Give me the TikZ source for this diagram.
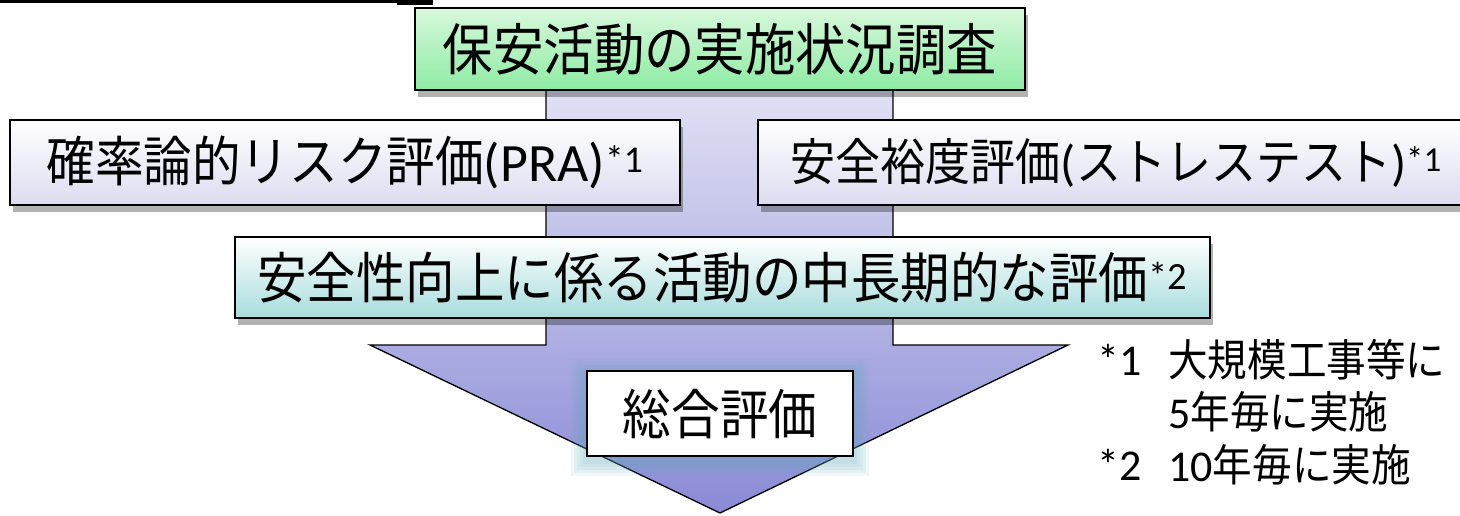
\documentclass[tikz,border=0pt]{standalone}
\usepackage{fontspec}
\setmainfont{Noto Sans CJK JP}[FakeStretch=0.9]
\newfontfamily\lat{Carlito}
\usetikzlibrary{shadows}
\definecolor{greentop}{HTML}{D8F8DC}
\definecolor{greenbot}{HTML}{8EEBA4}
\definecolor{lavbot}{HTML}{DCDCF0}
\definecolor{tealbot}{HTML}{A8DCDC}
\definecolor{arrtop}{HTML}{E6E6F6}
\definecolor{arrmid}{HTML}{ACACE4}
\definecolor{arrbot}{HTML}{8A8AD6}
\definecolor{glow}{HTML}{5FA8B8}
\tikzset{
  boxbase/.style={draw=black, line width=1.8pt, rectangle, inner sep=0pt,
    drop shadow={shadow xshift=3pt, shadow yshift=-7pt, fill=black, opacity=0.3}},
  greenbox/.style={boxbase, top color=greentop, bottom color=greenbot},
  lavbox/.style={boxbase, top color=white, bottom color=lavbot},
  tealbox/.style={boxbase, top color=white, bottom color=tealbot},
  whitebox/.style={draw=black, line width=1.8pt, rectangle, fill=white, inner sep=0pt},
  fnote/.style={anchor=west, inner sep=0pt, font=\fontsize{44}{48}\selectfont},
}
\begin{document}
\begin{tikzpicture}[x=1pt, y=-1pt]
\useasboundingbox (0,0) rectangle (1460,515);
% top rule fragment
\draw[line width=2.5pt] (0,1.25) -- (397,1.25);
\fill (397,0) rectangle (433,4.5);
% big arrow
\coordinate (sl) at (546,60);
\coordinate (sr) at (893,60);
\coordinate (tip) at (720,513);
\path[draw=black, line width=1.3pt, top color=arrtop, middle color=arrmid, bottom color=arrbot]
  (sl) -- (546,345) -- (370,345) -- (tip) -- (1068,345) -- (893,345) -- (sr) -- cycle;
% boxes
\node[greenbox, minimum width=610, minimum height=82,
  font=\fontsize{56}{60}\selectfont] (survey) at (720,49) {保安活動の実施状況調査};
\node[lavbox, minimum width=670, minimum height=85,
  font=\fontsize{54}{58}\selectfont] (pra) at (345,162.5) {確率論的リスク評価{\lat (PRA)\textsuperscript{*1}}};
\node[lavbox, anchor=west, minimum height=85, text width=683, inner xsep=33pt, align=left,
  font=\fontsize{50}{55}\selectfont] (stress) at (757,162.5) {安全裕度評価{\lat(}ストレステスト{\lat)\textsuperscript{*1}}};
\node[tealbox, minimum width=975, minimum height=81,
  font=\fontsize{55}{60}\selectfont] (mid) at (722.5,277.5) {安全性向上に係る活動の中長期的な評価{\lat\textsuperscript{*2}}};
% glow around the final box
\foreach \g in {16,13,10,7,4} {
  \fill[glow, opacity=0.09] (587-\g,371-\g+4) rectangle (853+\g,456+\g+4);
}
\node[whitebox, minimum width=266, minimum height=85,
  font=\fontsize{54}{58}\selectfont] (total) at (720,413.5) {総合評価};
% footnotes
\node[fnote] (fn1m) at (1097,360) {\lat *1};
\node[fnote] (fn1a) at (1168,360) {大規模工事等に};
\node[fnote] (fn1b) at (1168,412) {{\lat 5}年毎に実施};
\node[fnote] (fn2m) at (1097,465) {\lat *2};
\node[fnote] (fn2a) at (1168,465) {{\lat 10}年毎に実施};
\end{tikzpicture}
\end{document}
